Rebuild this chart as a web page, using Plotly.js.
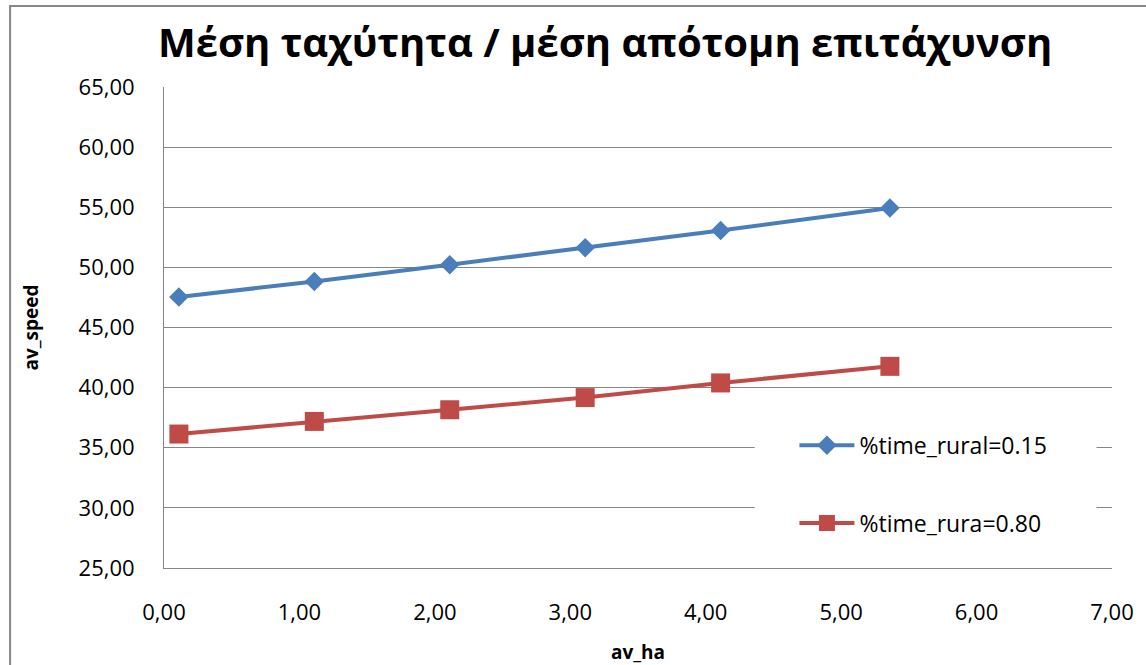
<!DOCTYPE html>
<html>
<head>
<meta charset="utf-8">
<script src="https://cdn.plot.ly/plotly-3.0.1.min.js"></script>
<style>
html,body{margin:0;padding:0;background:#fff;overflow:hidden;}
#chart{width:1146px;height:665px;}
</style>
</head>
<body>
<div id="chart"></div>
<script>
// Data
const avHa = [0.11, 1.11, 2.11, 3.11, 4.11, 5.36];
const speedRural015 = [47.54, 48.83, 50.22, 51.64, 53.07, 54.94];
const speedRural080 = [36.14, 37.19, 38.16, 39.17, 40.39, 41.77];
const seriesNames = ['%time_rural=0.15', '%time_rura=0.80'];
const chartTitle = 'Μέση ταχύτητα / μέση απότομη επιτάχυνση';
const xTitle = 'av_ha';
const yTitle = 'av_speed';

const FONT = "'Open Sans', 'Noto Sans', sans-serif";
const GRID = '#868686';
const PX = v => (v - 164) / 948.5;   // pixel -> paper x helper for decorations
const PY = v => (568 - v) / 481;     // pixel -> paper y helper for decorations

const traces = [
  {
    x: avHa, y: speedRural015, name: seriesNames[0], legendgroup: 'a',
    type: 'scatter', mode: 'lines+markers',
    line: {color: '#4A7EBB', width: 4},
    marker: {symbol: 'diamond', size: 15, color: '#4A7EBB'}
  },
  {
    x: avHa, y: speedRural080, name: seriesNames[1], legendgroup: 'b',
    type: 'scatter', mode: 'lines+markers',
    line: {color: '#BE4B48', width: 4},
    marker: {symbol: 'square', size: 19, color: '#BE4B48'}
  }
];

const layout = {
  width: 1146, height: 665,
  margin: {l: 164, r: 34, t: 87, b: 97},
  paper_bgcolor: '#fff', plot_bgcolor: '#fff',
  separators: ',.',
  font: {family: FONT, color: '#000'},
  title: {
    text: '<b>' + chartTitle + '</b>',
    font: {family: FONT, size: 40, color: '#000'},
    x: 0.528, xref: 'container', xanchor: 'center',
    y: 0.935, yref: 'container', yanchor: 'middle'
  },
  xaxis: {
    range: [0, 7], dtick: 1, tick0: 0, tickformat: '.2f',
    showgrid: false, zeroline: false,
    showline: true, linecolor: GRID, linewidth: 1,
    ticks: '', ticklabelstandoff: 25,
    tickfont: {family: FONT, size: 22, color: '#000'},
    title: {text: '<b>' + xTitle + '</b>', font: {family: FONT, size: 19, color: '#000'}, standoff: 28}
  },
  yaxis: {
    range: [25, 65], dtick: 5, tick0: 25, tickformat: '.2f',
    showgrid: true, gridcolor: GRID, gridwidth: 1, zeroline: false,
    showline: true, linecolor: GRID, linewidth: 1,
    ticks: '', ticklabelstandoff: 24,
    tickfont: {family: FONT, size: 22, color: '#000'},
    title: {text: '<b>' + yTitle + '</b>', font: {family: FONT, size: 19, color: '#000'}, standoff: 34}
  },
  showlegend: true,
  legend: {
    x: 0.665, xanchor: 'left', y: 0.30, yanchor: 'top',
    bgcolor: 'rgba(255,255,255,0)', borderwidth: 0,
    traceorder: 'grouped', tracegroupgap: 45,
    itemwidth: 55,
    font: {family: FONT, size: 23, color: '#000'}
  },
  shapes: [
    {type: 'rect', xref: 'paper', yref: 'paper',
     x0: PX(10), x1: 1.1, y0: -0.3, y1: PY(6),
     line: {color: '#878787', width: 2}, fillcolor: 'rgba(0,0,0,0)', layer: 'below'},
    {type: 'rect', xref: 'paper', yref: 'paper',
     x0: PX(755), x1: PX(1097), y0: PY(558), y1: PY(398),
     line: {width: 0}, fillcolor: '#fff', layer: 'above'}
  ]
};

Plotly.newPlot('chart', traces, layout, {displayModeBar: false, staticPlot: true});
</script>
</body>
</html>
